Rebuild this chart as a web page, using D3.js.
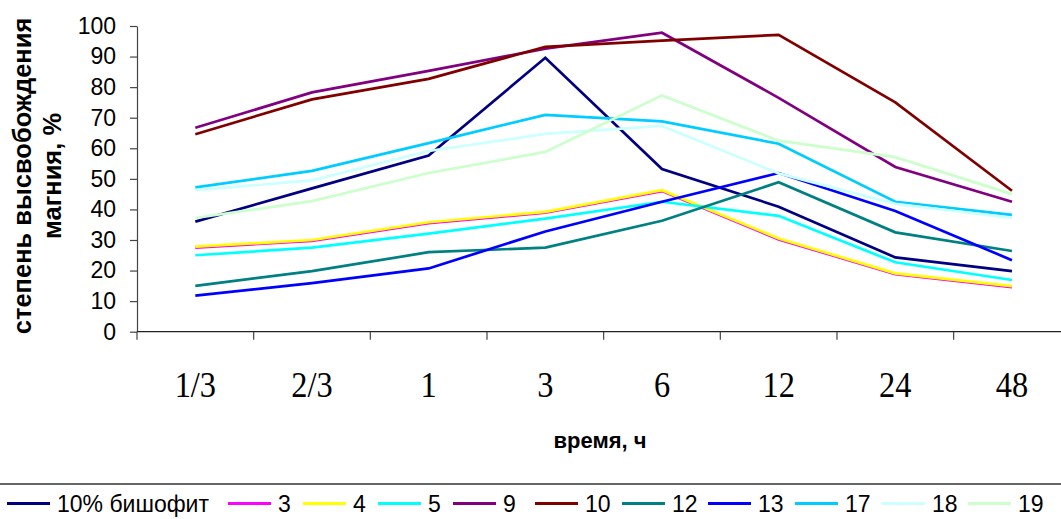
<!DOCTYPE html>
<html>
<head>
<meta charset="utf-8">
<script src="https://cdn.jsdelivr.net/npm/d3@7"></script>
<style>
  html, body { margin: 0; padding: 0; background: #fff; }
  svg { display: block; }
</style>
</head>
<body>
<svg id="chart" width="1061" height="519"></svg>
<script>
// ---- data ----
const categories = ["1/3", "2/3", "1", "3", "6", "12", "24", "48"];
const seriesNames = ["10% бишофит", "3", "4", "5", "9", "10", "12", "13", "17", "18", "19"];
const seriesColors = ["#000080", "#FF00FF", "#FFFF00", "#00FFFF", "#800080", "#800000", "#008080", "#0000FF", "#00CCFF", "#CCFFFF", "#CCFFCC"];
const s_bishofit = [36.0, 46.9, 57.6, 89.6, 53.2, 40.9, 24.3, 19.8];
const s3  = [27.5, 29.7, 35.5, 38.9, 46.0, 30.2, 18.8, 14.6];
const s4  = [27.8, 30.0, 35.8, 39.2, 46.3, 30.5, 19.1, 14.9];
const s5  = [25.0, 27.5, 32.1, 37.0, 42.5, 37.9, 22.7, 16.9];
const s9  = [66.7, 78.3, 85.3, 92.6, 97.8, 76.5, 53.9, 42.5];
const s10 = [64.6, 76.0, 82.7, 93.2, 95.2, 97.1, 75.0, 46.1];
const s12 = [15.0, 19.8, 26.0, 27.5, 36.3, 48.9, 32.5, 26.4];
const s13 = [11.8, 15.9, 20.7, 32.8, 42.5, 51.9, 39.5, 23.4];
const s17 = [47.2, 52.6, 61.7, 70.9, 68.8, 61.5, 42.5, 38.2];
const s18 = [46.3, 49.5, 59.1, 64.7, 67.3, 51.8, 41.8, 37.2];
const s19 = [37.2, 42.7, 51.9, 58.8, 77.3, 62.5, 57.1, 45.0];
const yTicks = [0, 10, 20, 30, 40, 50, 60, 70, 80, 90, 100];
const yTitleLines = ["степень высвобождения", "магния, %"];
const xTitle = "время, ч";

const seriesValues = [s_bishofit, s3, s4, s5, s9, s10, s12, s13, s17, s18, s19];

// ---- layout ----
const svg = d3.select("#chart");
const pLeft = 137, pRight = 1070.3, pTop = 26, pBottom = 331.7;
const legendStarts = [7, 228, 303, 378, 453, 535, 622, 708, 795, 882, 968];

const x = d3.scaleBand().domain(categories).range([pLeft, pRight]).padding(0);
const y = d3.scaleLinear().domain([0, 100]).range([pBottom, pTop]);
const cx = c => x(c) + x.bandwidth() / 2;

// y axis
const yAxis = d3.axisLeft(y).tickValues(yTicks).tickSize(7).tickPadding(14).tickSizeOuter(0);
const gy = svg.append("g").attr("transform", `translate(${pLeft},0)`).call(yAxis);
gy.select(".domain").attr("stroke", "#444").attr("stroke-width", 1.2);
gy.selectAll(".tick line").attr("stroke", "#444").attr("stroke-width", 1.2);
gy.selectAll(".tick text")
  .attr("font-family", "Arial, 'Liberation Sans', sans-serif")
  .attr("font-size", 23)
  .attr("fill", "#000");

// x axis line
svg.append("line")
  .attr("x1", pLeft).attr("x2", 1061)
  .attr("y1", y(0)).attr("y2", y(0))
  .attr("stroke", "#222").attr("stroke-width", 1.3);

// x ticks at category boundaries
const boundaries = categories.map(c => x(c)).concat([x(categories[categories.length - 1]) + x.bandwidth()]);
svg.append("g").selectAll("line").data(boundaries).join("line")
  .attr("x1", d => d).attr("x2", d => d)
  .attr("y1", y(0)).attr("y2", y(0) + 8)
  .attr("stroke", "#444").attr("stroke-width", 1.2);

// x labels
svg.append("g").selectAll("text").data(categories).join("text")
  .attr("transform", d => `translate(${cx(d)},397) scale(0.9,1)`)
  .attr("text-anchor", "middle")
  .attr("font-family", "'Times New Roman', 'Liberation Serif', serif")
  .attr("font-size", 36)
  .attr("fill", "#000")
  .text(d => d);

// x title
svg.append("text")
  .attr("x", 600).attr("y", 448)
  .attr("text-anchor", "middle")
  .attr("font-family", "Arial, 'Liberation Sans', sans-serif")
  .attr("font-weight", "bold")
  .attr("font-size", 22)
  .attr("fill", "#000")
  .text(xTitle);

// y title
const yt = svg.append("text")
  .attr("transform", "translate(22,176) rotate(-90)")
  .attr("text-anchor", "middle")
  .attr("font-family", "Arial, 'Liberation Sans', sans-serif")
  .attr("font-weight", "bold")
  .attr("font-size", 25.5)
  .attr("fill", "#000");
yTitleLines.forEach((t, i) => {
  yt.append("tspan").attr("x", 0).attr("dy", i === 0 ? "0.35em" : 30).text(t);
});

// lines
const line = d3.line().x((d, i) => cx(categories[i])).y(d => y(d));
svg.append("g").selectAll("path").data(seriesValues).join("path")
  .attr("d", d => line(d))
  .attr("fill", "none")
  .attr("stroke", (d, i) => seriesColors[i])
  .attr("stroke-width", 2.7)
  .attr("stroke-linejoin", "miter");

// legend separator
svg.append("line")
  .attr("x1", 0).attr("x2", 1061).attr("y1", 484).attr("y2", 484)
  .attr("stroke", "#333").attr("stroke-width", 1.3);

// legend
const lg = svg.append("g");
seriesNames.forEach((name, i) => {
  const lx = legendStarts[i];
  lg.append("line")
    .attr("x1", lx).attr("x2", lx + 43)
    .attr("y1", 503.5).attr("y2", 503.5)
    .attr("stroke", seriesColors[i]).attr("stroke-width", 3);
  lg.append("text")
    .attr("x", lx + 50).attr("y", 512)
    .attr("font-family", "Arial, 'Liberation Sans', sans-serif")
    .attr("font-size", 23)
    .attr("fill", "#000")
    .text(name);
});
</script>
</body>
</html>
